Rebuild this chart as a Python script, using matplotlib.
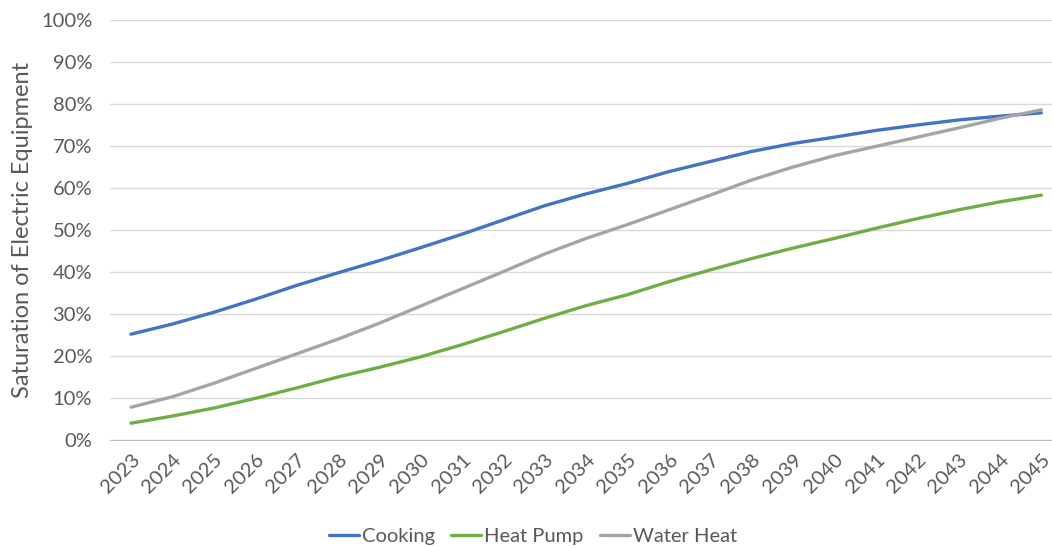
import matplotlib.pyplot as plt
from matplotlib.ticker import PercentFormatter

plt.rcParams['font.family'] = ['Lato', 'DejaVu Sans']

years = [str(y) for y in range(2023, 2046)]
cooking = [25.2, 27.6, 30.4, 33.5, 36.8, 39.8, 42.7, 45.8, 49.0, 52.4, 55.8, 58.6,
           61.1, 63.9, 66.3, 68.7, 70.6, 72.1, 73.7, 75.0, 76.2, 77.1, 77.9]
heat_pump = [4.0, 5.7, 7.6, 9.9, 12.4, 15.0, 17.3, 19.8, 22.7, 25.8, 29.0, 32.0,
             34.6, 37.7, 40.5, 43.2, 45.7, 48.0, 50.4, 52.7, 54.8, 56.7, 58.3]
water_heat = [7.8, 10.3, 13.5, 17.0, 20.5, 24.0, 27.8, 31.9, 36.0, 40.1, 44.3, 48.0,
              51.3, 54.8, 58.3, 61.9, 65.0, 67.7, 69.9, 72.1, 74.3, 76.6, 78.6]

txt = '#595959'
fig = plt.figure(figsize=(10.52, 5.48), dpi=100)
ax = fig.add_axes([110.3 / 1052, 108 / 548, (1062 - 110.3) / 1052, 420 / 548])

x = range(len(years))
ax.plot(x, cooking, color='#4472C4', lw=2.4, label='Cooking', solid_capstyle='round')
ax.plot(x, heat_pump, color='#70AD47', lw=2.4, label='Heat Pump', solid_capstyle='round')
ax.plot(x, water_heat, color='#A5A5A5', lw=2.4, label='Water Heat', solid_capstyle='round')

ax.set_xlim(-0.5, len(years) - 0.5)
ax.set_ylim(0, 100)
ax.set_yticks(range(0, 101, 10))
ax.yaxis.set_major_formatter(PercentFormatter(decimals=0))
ax.set_xticks(list(x))
ax.set_xticklabels(years, rotation=45, ha='right', rotation_mode='anchor')
ax.tick_params(axis='both', length=0, colors=txt, labelsize=14.5)
ax.tick_params(axis='y', pad=13)
ax.tick_params(axis='x', pad=8)
ax.grid(axis='y', color='#d9d9d9', lw=1)
ax.set_axisbelow(True)
for s in ['top', 'right', 'left']:
    ax.spines[s].set_visible(False)
ax.spines['bottom'].set_color('#bfbfbf')
ax.set_ylabel('Saturation of Electric Equipment', color=txt, fontsize=17, labelpad=6)

fig.legend(loc='center', bbox_to_anchor=(533 / 1052, 1 - 536 / 548), ncol=3, frameon=False,
           handlelength=1.5, columnspacing=0.8, handletextpad=0.15, fontsize=14.5,
           labelcolor=txt)

plt.savefig('out.png', dpi=100)
